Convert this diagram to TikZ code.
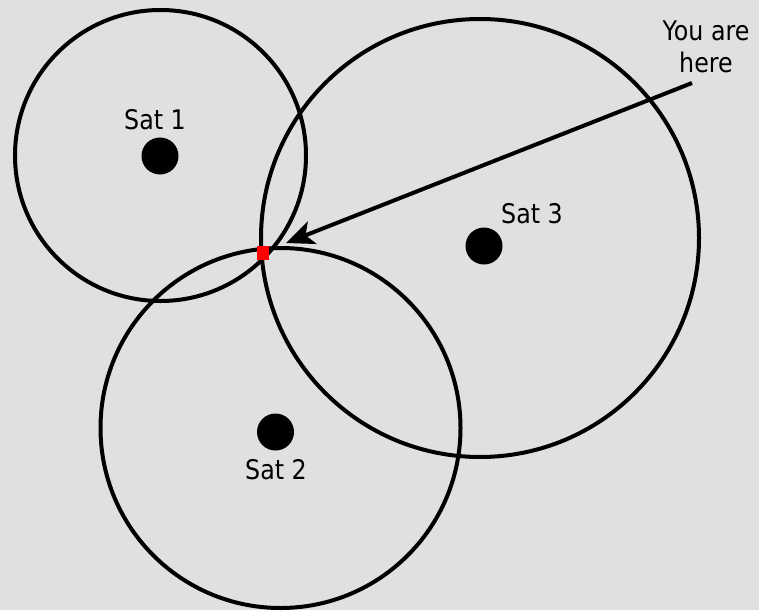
\documentclass[tikz,border=0pt]{standalone}
\usepackage{fontspec}
\setmainfont{DejaVu Sans}[FakeStretch=0.88]
\usetikzlibrary{arrows.meta,positioning}
\definecolor{bgfill}{HTML}{E0E0E0}

\begin{document}
\begin{tikzpicture}[
    x=1pt,y=-1pt,
    >={Stealth[length=28pt,width=24pt,inset=7pt]},
    rangecircle/.style={circle,draw,line width=4pt,inner sep=0pt},
    sat/.style={circle,fill=black,minimum size=37pt,inner sep=0pt},
    lbl/.style={font=\fontsize{27}{32}\selectfont,inner sep=0pt},
    fix/.style={rectangle,fill=red,minimum width=12pt,minimum height=14pt,inner sep=0pt}]
  \fill[bgfill] (0,0) rectangle (759,610);
  \useasboundingbox (0,0) rectangle (759,610);
  % ---- range circles round each satellite ----
  \node[rangecircle,minimum size=291pt] (r1) at (160.5,155.5) {};
  \node[rangecircle,minimum size=360pt] (r2) at (280.5,428) {};
  \node[rangecircle,minimum size=438pt] (r3) at (480,238) {};
  % ---- satellites ----
  \node[sat] (s1) at (160,156) {};
  \node[sat] (s2) at (275.5,432) {};
  \node[sat] (s3) at (484,246) {};
  \node[lbl,anchor=base] (l1) at (155,129) {Sat 1};
  \node[lbl,anchor=base] (l2) at (276,479) {Sat 2};
  \node[lbl,anchor=base] (l3) at (532,223) {Sat 3};
  % ---- position fix and pointer ----
  \node[lbl,anchor=north,align=center] (here) at (706,21) {You are\\here};
  \coordinate (tail) at (692,83);
  \coordinate (tip) at (286,243);
  \draw[->,line width=4pt] (tail) -- (tip);
  \node[fix] (pos) at (263,253) {};
\end{tikzpicture}
\end{document}
